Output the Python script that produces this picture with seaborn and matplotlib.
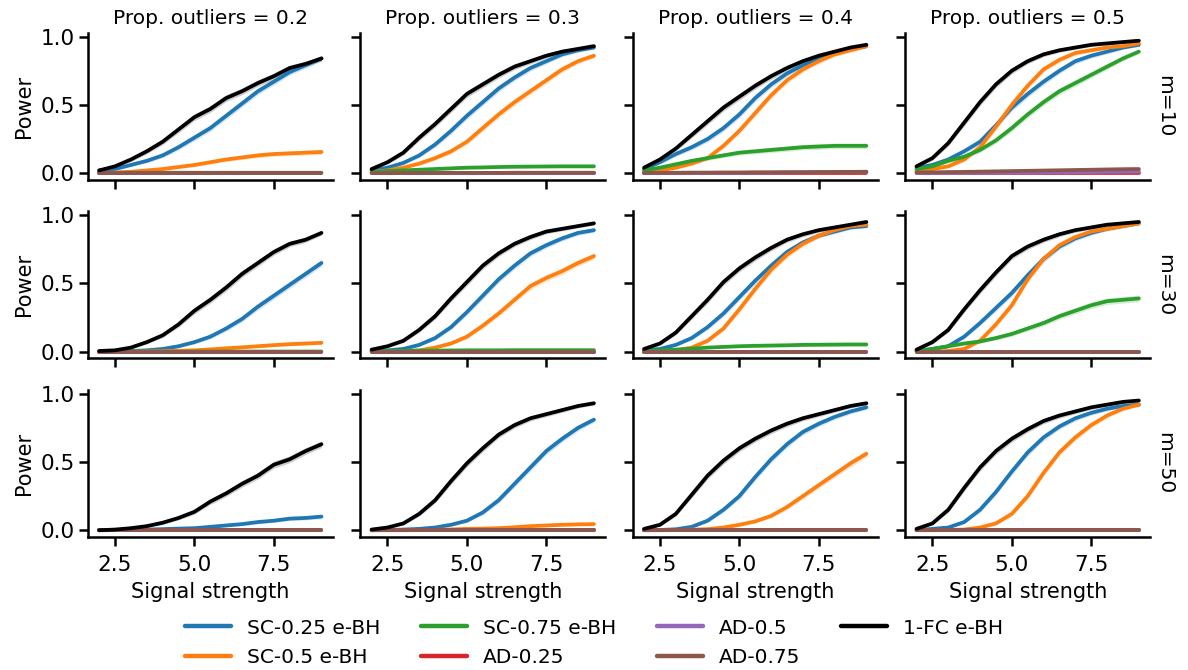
import numpy as np
import pandas as pd
import matplotlib
matplotlib.use("Agg")
import matplotlib.pyplot as plt
import seaborn as sns

# ---------------------------------------------------------------- data
signal = [2.0, 2.5, 3.0, 3.5, 4.0, 4.5, 5.0, 5.5, 6.0, 6.5, 7.0, 7.5, 8.0, 8.5, 9.0]
props = [0.2, 0.3, 0.4, 0.5]
m_values = [10, 30, 50]
methods = ["SC-0.25 e-BH", "SC-0.5 e-BH", "SC-0.75 e-BH",
           "AD-0.25", "AD-0.5", "AD-0.75", "1-FC e-BH"]
colors = ["#1f77b4", "#ff7f0e", "#2ca02c", "#d62728", "#9467bd", "#8c564b", "black"]

ZERO = [0.0] * 15

# Mean power per signal strength; one list per proportion of outliers (0.2, 0.3, 0.4, 0.5)
# ---- m = 10
sc025_m10 = [
    [0.02, 0.03, 0.06, 0.09, 0.13, 0.19, 0.26, 0.33, 0.42, 0.51, 0.60, 0.67, 0.74, 0.79, 0.84],
    [0.02, 0.04, 0.075, 0.13, 0.21, 0.31, 0.42, 0.52, 0.62, 0.70, 0.77, 0.82, 0.87, 0.90, 0.92],
    [0.03, 0.08, 0.14, 0.19, 0.25, 0.33, 0.43, 0.55, 0.65, 0.73, 0.79, 0.84, 0.88, 0.91, 0.93],
    [0.04, 0.06, 0.10, 0.16, 0.23, 0.35, 0.48, 0.58, 0.67, 0.75, 0.82, 0.86, 0.89, 0.92, 0.94],
]
sc05_m10 = [
    [0.0, 0.005, 0.01, 0.02, 0.03, 0.045, 0.06, 0.08, 0.10, 0.115, 0.13, 0.14, 0.145, 0.15, 0.155],
    [0.01, 0.02, 0.04, 0.07, 0.11, 0.16, 0.23, 0.33, 0.43, 0.52, 0.60, 0.68, 0.76, 0.82, 0.86],
    [0.01, 0.02, 0.04, 0.07, 0.11, 0.20, 0.31, 0.44, 0.57, 0.68, 0.76, 0.82, 0.87, 0.90, 0.93],
    [0.02, 0.03, 0.05, 0.10, 0.19, 0.34, 0.50, 0.64, 0.76, 0.83, 0.88, 0.90, 0.92, 0.93, 0.95],
]
sc075_m10 = [
    [0.002, 0.002, 0.003, 0.003, 0.003, 0.003, 0.003, 0.003, 0.003, 0.003, 0.003, 0.003, 0.003, 0.003, 0.003],
    [0.01, 0.015, 0.02, 0.025, 0.03, 0.035, 0.04, 0.042, 0.045, 0.047, 0.048, 0.049, 0.05, 0.05, 0.05],
    [0.02, 0.04, 0.065, 0.09, 0.11, 0.13, 0.15, 0.16, 0.17, 0.18, 0.19, 0.195, 0.20, 0.20, 0.20],
    [0.03, 0.05, 0.09, 0.12, 0.17, 0.24, 0.33, 0.43, 0.52, 0.60, 0.66, 0.72, 0.78, 0.84, 0.89],
]
ad025_m10 = [ZERO, ZERO, ZERO, ZERO]
ad05_m10 = [
    ZERO,
    ZERO,
    [0.0, 0.0, 0.0, 0.001, 0.001, 0.002, 0.002, 0.003, 0.004, 0.005, 0.006, 0.007, 0.008, 0.009, 0.01],
    [0.0, 0.0, 0.001, 0.001, 0.002, 0.002, 0.003, 0.004, 0.005, 0.006, 0.007, 0.008, 0.009, 0.01, 0.011],
]
ad075_m10 = [
    ZERO,
    [0.0, 0.0, 0.001, 0.001, 0.001, 0.002, 0.002, 0.002, 0.002, 0.003, 0.003, 0.003, 0.003, 0.003, 0.003],
    [0.001, 0.002, 0.003, 0.004, 0.004, 0.005, 0.005, 0.006, 0.006, 0.007, 0.007, 0.008, 0.008, 0.009, 0.01],
    [0.005, 0.006, 0.008, 0.009, 0.011, 0.013, 0.015, 0.017, 0.019, 0.021, 0.023, 0.025, 0.027, 0.029, 0.03],
]
fc_m10 = [
    [0.02, 0.05, 0.10, 0.16, 0.23, 0.32, 0.41, 0.47, 0.55, 0.60, 0.66, 0.71, 0.77, 0.80, 0.84],
    [0.03, 0.08, 0.15, 0.26, 0.36, 0.47, 0.58, 0.65, 0.72, 0.78, 0.82, 0.86, 0.89, 0.91, 0.93],
    [0.04, 0.10, 0.18, 0.28, 0.38, 0.48, 0.56, 0.64, 0.71, 0.77, 0.82, 0.86, 0.89, 0.92, 0.94],
    [0.05, 0.11, 0.22, 0.37, 0.52, 0.65, 0.75, 0.82, 0.87, 0.90, 0.92, 0.94, 0.95, 0.96, 0.97],
]

# ---- m = 30
sc025_m30 = [
    [0.0, 0.002, 0.005, 0.01, 0.02, 0.04, 0.07, 0.11, 0.17, 0.24, 0.33, 0.41, 0.49, 0.57, 0.65],
    [0.005, 0.01, 0.02, 0.05, 0.10, 0.18, 0.29, 0.41, 0.53, 0.63, 0.72, 0.78, 0.83, 0.87, 0.89],
    [0.01, 0.02, 0.05, 0.10, 0.18, 0.28, 0.40, 0.52, 0.63, 0.73, 0.80, 0.85, 0.88, 0.91, 0.92],
    [0.005, 0.02, 0.04, 0.11, 0.21, 0.32, 0.43, 0.56, 0.68, 0.77, 0.83, 0.87, 0.90, 0.92, 0.94],
]
sc05_m30 = [
    [0.0, 0.0, 0.001, 0.002, 0.004, 0.007, 0.01, 0.017, 0.025, 0.032, 0.04, 0.048, 0.055, 0.06, 0.065],
    [0.0, 0.0, 0.005, 0.01, 0.03, 0.06, 0.11, 0.19, 0.28, 0.38, 0.48, 0.54, 0.59, 0.65, 0.70],
    [0.0, 0.002, 0.01, 0.03, 0.08, 0.17, 0.31, 0.46, 0.60, 0.71, 0.79, 0.85, 0.89, 0.92, 0.93],
    [0.0, 0.0, 0.005, 0.02, 0.08, 0.20, 0.34, 0.53, 0.68, 0.78, 0.84, 0.88, 0.90, 0.92, 0.94],
]
sc075_m30 = [
    [0.0, 0.0, 0.0, 0.0, 0.0, 0.0, 0.001, 0.001, 0.001, 0.001, 0.001, 0.001, 0.001, 0.001, 0.001],
    [0.002, 0.004, 0.006, 0.007, 0.008, 0.009, 0.01, 0.01, 0.01, 0.011, 0.011, 0.011, 0.011, 0.011, 0.011],
    [0.005, 0.01, 0.015, 0.022, 0.03, 0.035, 0.04, 0.043, 0.045, 0.047, 0.05, 0.051, 0.052, 0.053, 0.053],
    [0.005, 0.02, 0.04, 0.06, 0.075, 0.10, 0.13, 0.17, 0.21, 0.26, 0.30, 0.34, 0.37, 0.38, 0.39],
]
ad025_m30 = [ZERO, ZERO, ZERO, ZERO]
ad05_m30 = [ZERO, ZERO, ZERO, ZERO]
ad075_m30 = [ZERO, ZERO, ZERO, ZERO]
fc_m30 = [
    [0.005, 0.01, 0.03, 0.07, 0.12, 0.20, 0.30, 0.38, 0.47, 0.57, 0.65, 0.73, 0.79, 0.82, 0.87],
    [0.015, 0.04, 0.08, 0.16, 0.26, 0.39, 0.51, 0.63, 0.72, 0.79, 0.84, 0.88, 0.90, 0.92, 0.94],
    [0.02, 0.06, 0.14, 0.26, 0.38, 0.51, 0.61, 0.69, 0.76, 0.82, 0.86, 0.89, 0.91, 0.93, 0.95],
    [0.015, 0.07, 0.16, 0.31, 0.45, 0.58, 0.70, 0.77, 0.82, 0.86, 0.89, 0.91, 0.93, 0.94, 0.95],
]

# ---- m = 50
sc025_m50 = [
    [0.0, 0.001, 0.003, 0.005, 0.008, 0.012, 0.015, 0.025, 0.035, 0.045, 0.06, 0.07, 0.085, 0.09, 0.10],
    [0.0, 0.001, 0.005, 0.01, 0.02, 0.04, 0.07, 0.13, 0.22, 0.34, 0.46, 0.58, 0.67, 0.75, 0.81],
    [0.0, 0.002, 0.007, 0.025, 0.07, 0.15, 0.25, 0.39, 0.52, 0.63, 0.72, 0.78, 0.83, 0.87, 0.90],
    [0.0, 0.01, 0.02, 0.06, 0.15, 0.28, 0.43, 0.57, 0.68, 0.76, 0.82, 0.86, 0.89, 0.91, 0.92],
]
sc05_m50 = [
    ZERO,
    [0.0, 0.0, 0.0, 0.001, 0.003, 0.006, 0.01, 0.012, 0.015, 0.022, 0.03, 0.035, 0.04, 0.043, 0.045],
    [0.0, 0.0, 0.002, 0.004, 0.008, 0.02, 0.04, 0.065, 0.105, 0.17, 0.25, 0.33, 0.41, 0.49, 0.56],
    [0.0, 0.0, 0.002, 0.005, 0.02, 0.05, 0.12, 0.25, 0.42, 0.57, 0.68, 0.77, 0.84, 0.89, 0.92],
]
sc075_m50 = [ZERO, ZERO, ZERO, ZERO]
ad025_m50 = [ZERO, ZERO, ZERO, ZERO]
ad05_m50 = [ZERO, ZERO, ZERO, ZERO]
ad075_m50 = [ZERO, ZERO, ZERO, ZERO]
fc_m50 = [
    [0.0, 0.005, 0.015, 0.03, 0.055, 0.09, 0.135, 0.21, 0.27, 0.34, 0.40, 0.48, 0.52, 0.58, 0.63],
    [0.005, 0.02, 0.05, 0.12, 0.22, 0.36, 0.49, 0.60, 0.70, 0.77, 0.82, 0.85, 0.88, 0.91, 0.93],
    [0.01, 0.04, 0.12, 0.26, 0.40, 0.51, 0.60, 0.67, 0.73, 0.78, 0.82, 0.85, 0.88, 0.91, 0.93],
    [0.01, 0.05, 0.15, 0.31, 0.46, 0.58, 0.67, 0.74, 0.80, 0.84, 0.87, 0.90, 0.92, 0.94, 0.95],
]

results = {
    10: [sc025_m10, sc05_m10, sc075_m10, ad025_m10, ad05_m10, ad075_m10, fc_m10],
    30: [sc025_m30, sc05_m30, sc075_m30, ad025_m30, ad05_m30, ad075_m30, fc_m30],
    50: [sc025_m50, sc05_m50, sc075_m50, ad025_m50, ad05_m50, ad075_m50, fc_m50],
}

N_REPS = 1500  # repetitions behind each power estimate (for the 95% band)

rows = []
for m in m_values:
    for k, method in enumerate(methods):
        for j, p in enumerate(props):
            for s, v in zip(signal, results[m][k][j]):
                rows.append({"m": m, "Prop. outliers": p, "Method": method,
                             "Signal strength": s, "Power": v})
df = pd.DataFrame(rows)

# ---------------------------------------------------------------- style
sns.set_theme(style="ticks", rc={
    "axes.linewidth": 1.8,
    "axes.edgecolor": "black", "axes.labelcolor": "black",
    "text.color": "black", "xtick.color": "black", "ytick.color": "black",
    "xtick.major.size": 6.5, "ytick.major.size": 6.5,
    "xtick.major.width": 1.8, "ytick.major.width": 1.8,
    "xtick.major.pad": 6.5, "ytick.major.pad": 3.0,
    "xtick.labelsize": 15.5, "ytick.labelsize": 15.5,
    "axes.labelsize": 15, "axes.titlesize": 14.5,
    "axes.labelpad": 5.0,
    "legend.fontsize": 14.5,
})
plt.rcParams["font.family"] = ["DejaVu Sans"]

g = sns.relplot(
    data=df, x="Signal strength", y="Power",
    hue="Method", hue_order=methods, palette=colors,
    row="m", col="Prop. outliers", kind="line",
    errorbar=None, linewidth=2.7,
    height=2.0, aspect=1.6,
    facet_kws=dict(margin_titles=True, sharex=True, sharey=True),
)

# 95% bands around each power curve
for (m, p), ax in g.axes_dict.items():
    sub = df[(df["m"] == m) & (df["Prop. outliers"] == p)]
    for method, col in zip(methods, colors):
        d = sub[sub["Method"] == method]
        pw = d["Power"].to_numpy()
        half = 1.96 * np.sqrt(pw * (1 - pw) / N_REPS)
        ax.fill_between(d["Signal strength"], pw - half, pw + half,
                        color=col, alpha=0.2, linewidth=0, zorder=1)

g.set_titles(col_template="Prop. outliers = {col_name}", row_template="m={row_name}", size=14.5)
g.set(xticks=[2.5, 5.0, 7.5], yticks=[0.0, 0.5, 1.0])

g.figure.set_size_inches(11.88, 6.70)
g.figure.subplots_adjust(left=0.0741, right=0.968, top=0.951, bottom=0.1985,
                         wspace=0.114, hspace=0.214)

sns.move_legend(g, "lower center", bbox_to_anchor=(0.5, -0.022), ncol=4,
                title=None, frameon=False, handlelength=2.3, columnspacing=2.0)
for line in g.legend.get_lines():
    line.set_linewidth(3.2)

g.figure.savefig("out.png", dpi=100)
